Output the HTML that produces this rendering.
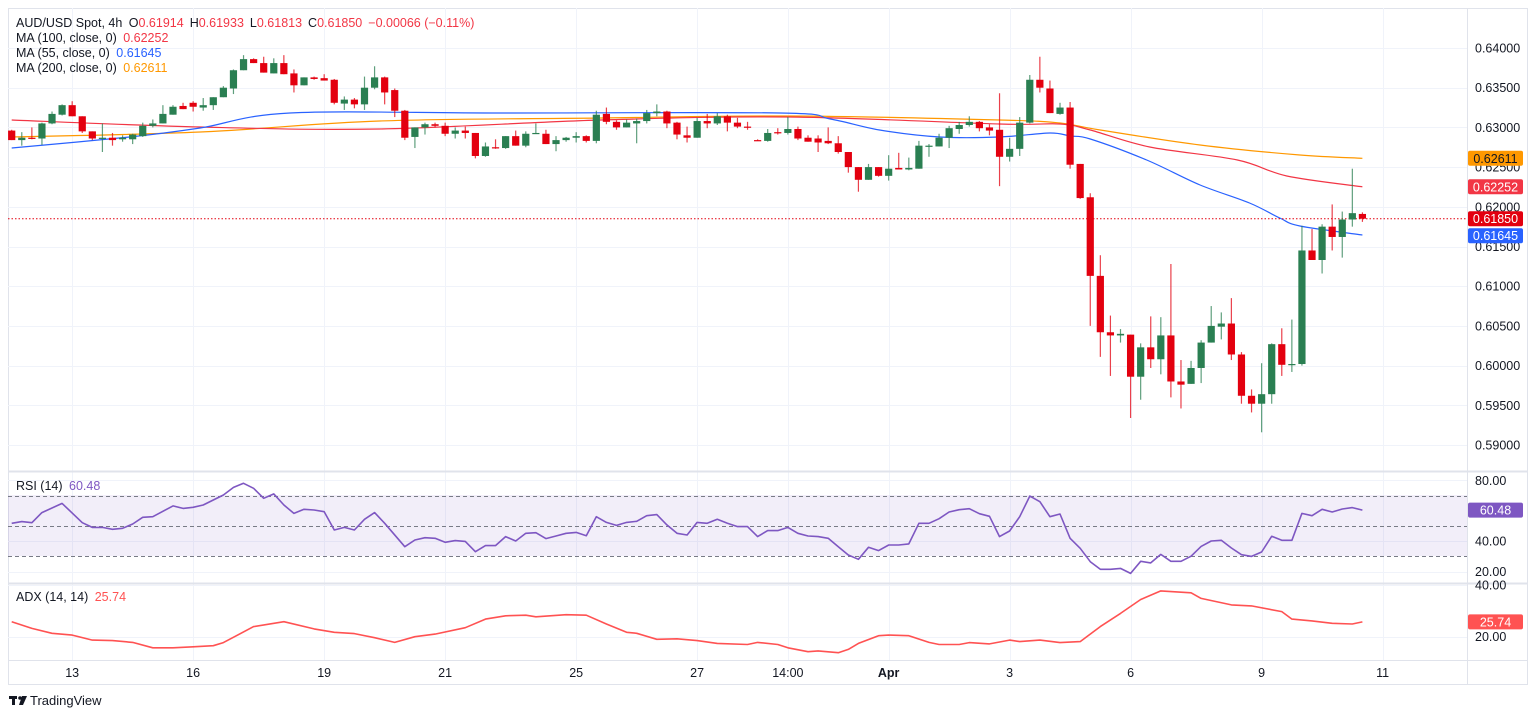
<!DOCTYPE html>
<html><head><meta charset="utf-8"><title>AUD/USD 4h</title>
<style>
html,body{margin:0;padding:0;background:#fff;}
body{width:1536px;height:716px;overflow:hidden;font-family:"Liberation Sans",sans-serif;}
svg text{font-family:"Liberation Sans",sans-serif;}
</style></head>
<body>
<svg id="chart" width="1536" height="716" viewBox="0 0 1536 716" xmlns="http://www.w3.org/2000/svg">
<rect x="0" y="0" width="1536" height="716" fill="#ffffff"/>
<rect x="8.5" y="8.5" width="1519" height="676" fill="none" stroke="#e0e3eb"/>
<g id="grid"></g>
<rect x="8" y="495" width="1459" height="61" fill="rgba(126,87,194,0.1)"/>
<g id="rsiLevels"></g>
<g id="mas"></g>
<g id="candles"></g>
<g id="indicators"></g>
<line x1="1467.5" y1="8" x2="1467.5" y2="684" stroke="#e0e3eb"/>
<line x1="8" y1="471.5" x2="1527" y2="471.5" stroke="#e0e3eb" stroke-width="2"/>
<line x1="8" y1="583.5" x2="1527" y2="583.5" stroke="#e0e3eb" stroke-width="2"/>
<line x1="8" y1="660.5" x2="1527" y2="660.5" stroke="#e0e3eb"/>
<g id="axes"></g>
<g id="badges"></g>
<g font-size="12.5">
<text x="16" y="27" fill="#131722">AUD/USD Spot, 4h <tspan dx="3">O</tspan><tspan fill="#F23645">0.61914</tspan><tspan dx="6">H</tspan><tspan fill="#F23645">0.61933</tspan><tspan dx="6">L</tspan><tspan fill="#F23645">0.61813</tspan><tspan dx="6">C</tspan><tspan fill="#F23645">0.61850</tspan><tspan dx="6" fill="#F23645">−0.00066 (−0.11%)</tspan></text>
<text x="16" y="42" fill="#131722">MA (100, close, 0) <tspan dx="3" fill="#F23645">0.62252</tspan></text>
<text x="16" y="57" fill="#131722">MA (55, close, 0) <tspan dx="3" fill="#2962FF">0.61645</tspan></text>
<text x="16" y="72" fill="#131722">MA (200, close, 0) <tspan dx="3" fill="#FF9800">0.62611</tspan></text>
<text x="16" y="490" fill="#131722">RSI (14) <tspan dx="3" fill="#7E57C2">60.48</tspan></text>
<text x="16" y="601" fill="#131722">ADX (14, 14) <tspan dx="3" fill="#FF5252">25.74</tspan></text>
</g>
<g>
<rect x="9" y="696" width="8" height="3" fill="#131722"/>
<rect x="12" y="696" width="3" height="9" fill="#131722"/>
<circle cx="20" cy="698" r="1.8" fill="#131722"/>
<polygon points="22,696 27,696 23,705 19,705" fill="#131722"/>
<text x="30" y="705" font-size="13" fill="#131722">TradingView</text>
</g>
</svg>
<script>
// ---- candle data (4h) ----
const opens=[.6296,.6284,.6287,.6286,.6305,.6316,.6328,.6314,.6295,.6287,.6287,.6285,.6285,.6289,.6302,.6305,.6316,.6327,.6331,.6325,.6328,.6338,.6349,.6372,.6386,.6381,.6368,.6381,.6368,.6353,.6363,.6362,.6360,.6330,.6335,.6329,.6350,.6363,.6347,.6321,.6288,.6300,.6304,.6302,.6292,.6296,.6293,.6264,.6275,.6274,.6289,.6277,.6292,.6292,.6279,.6284,.6287,.6289,.6283,.6317,.6307,.6300,.6305,.6308,.6318,.6320,.6306,.6290,.6287,.6308,.6305,.6314,.6306,.6301,.6284,.6283,.6294,.6293,.6298,.6287,.6286,.6283,.6280,.6269,.6250,.6234,.6250,.6239,.6249,.6247,.6248,.6276,.6276,.6287,.6298,.6303,.6307,.6300,.6297,.6263,.6273,.6306,.6360,.6349,.6317,.6325,.6254,.6212,.6113,.6042,.6038,.6039,.5986,.6023,.6008,.6038,.5980,.5977,.5997,.6029,.6049,.6053,.6014,.5962,.5952,.5964,.6027,.6001,.6002,.6145,.6133,.6175,.6162,.6184,.6191];
const highs=[.6297,.6294,.6300,.6306,.6320,.6329,.6333,.6314,.6295,.6305,.6293,.6290,.6292,.6306,.6310,.6328,.6328,.6331,.6333,.6337,.6338,.6352,.6373,.6391,.6387,.6389,.6387,.6391,.6373,.6363,.6364,.6367,.6361,.6339,.6337,.6364,.6377,.6364,.6349,.6322,.6300,.6306,.6306,.6306,.6300,.6301,.6293,.6281,.6285,.6289,.6296,.6295,.6305,.6297,.6289,.6288,.6294,.6290,.6321,.6325,.6309,.6310,.6311,.6322,.6329,.6321,.6307,.6301,.6312,.6317,.6318,.6316,.6312,.6307,.6285,.6298,.6299,.6313,.6301,.6290,.6290,.6300,.6289,.6269,.6250,.6254,.6250,.6265,.6268,.6262,.6283,.6279,.6292,.6302,.6307,.6314,.6308,.6304,.6343,.6287,.6313,.6366,.6389,.6359,.6331,.6332,.6254,.6217,.6139,.6063,.6046,.6039,.6028,.6062,.6061,.6128,.6007,.6006,.6032,.6075,.6067,.6085,.6017,.5970,.6003,.6028,.6047,.6058,.6176,.6172,.6178,.6203,.6194,.6248,.6193];
const lows=[.6284,.6277,.6285,.6278,.6304,.6315,.6314,.6293,.6284,.6269,.6277,.6282,.6279,.6288,.6300,.6305,.6316,.6323,.6320,.6321,.6322,.6338,.6342,.6372,.6381,.6369,.6368,.6367,.6344,.6353,.6360,.6359,.6329,.6322,.6324,.6322,.6348,.6329,.6313,.6284,.6274,.6291,.6300,.6289,.6286,.6286,.6261,.6263,.6273,.6273,.6277,.6275,.6292,.6279,.6270,.6282,.6281,.6281,.6280,.6304,.6297,.6300,.6280,.6305,.6314,.6299,.6285,.6281,.6287,.6299,.6303,.6295,.6299,.6297,.6283,.6282,.6291,.6291,.6284,.6282,.6269,.6279,.6267,.6243,.6219,.6234,.6238,.6233,.6247,.6246,.6248,.6263,.6276,.6274,.6292,.6301,.6295,.6290,.6226,.6257,.6264,.6305,.6344,.6318,.6316,.6248,.6210,.6050,.6011,.5987,.6029,.5934,.5957,.5997,.5989,.5960,.5946,.5977,.5978,.6029,.6033,.6007,.5952,.5941,.5916,.5952,.5987,.5992,.6000,.6133,.6116,.6145,.6136,.6175,.6181];
const closes=[.6284,.6287,.6286,.6305,.6317,.6328,.6314,.6295,.6286,.6287,.6284,.6287,.6291,.6302,.6305,.6317,.6326,.6323,.6326,.6328,.6338,.6350,.6372,.6386,.6381,.6369,.6381,.6367,.6353,.6363,.6361,.6359,.6331,.6335,.6329,.6350,.6363,.6344,.6321,.6287,.6300,.6304,.6302,.6292,.6296,.6293,.6264,.6276,.6274,.6289,.6277,.6292,.6293,.6279,.6284,.6287,.6289,.6283,.6316,.6307,.6300,.6306,.6308,.6318,.6320,.6305,.6291,.6287,.6308,.6305,.6314,.6306,.6301,.6300,.6283,.6293,.6293,.6298,.6286,.6282,.6281,.6280,.6269,.6250,.6234,.6250,.6239,.6248,.6247,.6249,.6277,.6277,.6287,.6299,.6303,.6307,.6299,.6296,.6263,.6273,.6306,.6360,.6350,.6318,.6325,.6253,.6211,.6113,.6042,.6038,.6040,.5986,.6023,.6008,.6038,.5980,.5976,.5997,.6029,.6050,.6053,.6014,.5962,.5952,.5964,.6027,.6001,.6002,.6145,.6133,.6175,.6162,.6184,.6192,.6185];
// ---- moving averages (candle index, value) ----
const ma55Idx=[0,11.7,18.7,27.6,48.4,76.2,81.2,86.1,92.1,98,103,105,107,112.6,117.9,122.8,125.8,127.8,134];
const ma55Val=[.62741,.62879,.62992,.63181,.63181,.63181,.63106,.62967,.62879,.62879,.62929,.62892,.62854,.62589,.62275,.62048,.61859,.61758,.61645];
const ma100Idx=[0,18.7,36.5,58.4,77.2,98,104,107,112.9,121.6,126.5,134];
const ma100Val=[.63093,.63005,.6298,.63093,.63131,.63043,.63043,.62967,.62753,.6259,.62388,.62252];
const ma200Idx=[0,18.7,36.5,58.4,77.2,98,104,108,117.9,127.8,134];
const ma200Val=[.62879,.62942,.63081,.63118,.63144,.63093,.63055,.62967,.62778,.62652,.62611];
// ---- RSI (14) ----
const rsiIdx=[0,1,2,3,5,7,8,9,10,11,12,13,14,16,17,18,19,21,22,23,24,25,26,27,28,29,30,31,32,33,34,35,36,37,39,40,41,42,43,44,45,46,47,48,49,50,51,52,53,54,55,56,57,58,59,60,61,62,63,64,65,66,67,68,69,70,71,72,73,74,75,76,77,78,79,80,81,82,83,84,85,86,87,88,89,90,91,92,93,94,95,96,97,98,99,100,101,102,103,104,105,106,107,108,109,110,111,112,113,114,115,116,117,118,119,120,121,122,123,124,125,126,127,128,129,130,131,132,133,134];
const rsiVal=[51.8,52.9,52.2,58.8,64.9,52.2,49.1,49.1,47.8,48.5,51.3,55.7,56.1,63.2,61.6,62.3,63.8,70.4,75.4,78.1,74.8,68.2,71.1,63.8,58.3,61.0,60.5,59.4,47.4,49.1,47.4,54.4,58.8,51.8,36.4,40.8,42.3,41.9,39.3,40.4,39.9,33.1,37.1,37.1,43.0,40.1,45.2,45.6,41.7,43.4,45.2,45.8,43.6,56.1,52.4,50.4,52.4,53.1,56.8,57.5,50.7,45.2,44.1,52.4,51.8,54.4,51.8,49.6,49.6,43.0,47.0,47.0,49.1,45.2,43.4,43.0,41.9,36.4,30.9,28.1,36.0,33.8,37.5,37.5,38.2,51.8,51.8,54.8,59.2,60.7,61.4,58.1,56.4,43.0,46.7,56.1,69.7,66.0,56.1,57.9,41.9,35.3,26.5,21.5,21.5,22.1,18.8,26.8,25.7,31.3,26.8,26.8,30.1,36.6,40.1,40.6,35.5,31.1,30.0,32.9,43.2,40.6,40.6,58.3,56.8,61.0,59.2,61.2,62.1,60.48];
const rsiTicks=[80,40,20];
const rsiLevels=[70,50,30];
// ---- ADX (14,14) ----
const adxIdx=[0,2,4,6,8,10,12,14,16,18,20,21,24,27,30,32,34,36,38,40,42,45,47,49,51,52,55,57,59,61,62,64,66,68,70,73,74,76,77,79,80,82,83,84,86,87,89,91,92,94,95,97,99,100,102,104,106,108,110,112,114,117,118,121,123,126,127,129,131,133,134];
const adxVal=[25.8,23.2,21.3,20.6,18.7,18.5,17.8,15.7,15.7,16.1,16.5,17.7,23.9,25.8,23.0,21.7,21.2,19.6,17.8,20.0,21.0,23.5,26.8,28.1,28.3,27.7,28.5,28.3,24.9,21.7,21.3,19.0,19.2,18.5,17.4,17.0,17.8,17.0,15.7,14.2,14.5,13.8,15.1,17.4,20.4,20.6,20.4,17.8,17.0,17.0,17.7,17.2,18.7,18.1,18.7,17.7,18.1,23.9,29.0,34.4,37.7,37.0,34.8,32.3,31.9,29.7,26.8,26.1,25.2,24.9,25.74];
const adxTicks=[40,20];
// ---- axes ----
const priceTicks=[0.640,0.635,0.630,0.625,0.620,0.615,0.610,0.605,0.600,0.595,0.590];
const timeTickIdx=[6,18,31,43,56,68,77,87,99,111,124,136];
const timeTickLabels=["13","16","19","21","25","27","14:00","Apr","3","6","9","11"];
const lastClose=0.6185;

const NS="http://www.w3.org/2000/svg";
function xOf(i){return 11.7+i*10.08;}
function yP(p){return 48+(0.64-p)*7940;}
function yR(v){return 526-(v-50)*1.52;}
function yA(v){return 636.7-(v-20)*2.585;}
function mk(tag,attrs,parent){const e=document.createElementNS(NS,tag);for(const k in attrs)e.setAttribute(k,attrs[k]);parent.appendChild(e);return e;}
const grid=document.getElementById('grid'),axes=document.getElementById('axes');

priceTicks.forEach(p=>{
  const y=Math.round(yP(p))+0.5;
  const l=mk('line',{x1:8,x2:1467,y1:y,y2:y,stroke:'#f0f3fa'},grid);
  
  
  const t=mk('text',{x:1475,y:yP(p)+4.5,'font-size':12.5,fill:'#131722'},axes);
  t.textContent=p.toFixed(5);
  
  
});
timeTickIdx.forEach((i,k)=>{
  const x=Math.round(xOf(i))+0.5;
  const l=mk('line',{x1:x,x2:x,y1:8,y2:660,stroke:'#f0f3fa'},grid);
  
  
  const t=mk('text',{x:xOf(i),y:677,'font-size':12.5,fill:'#131722','text-anchor':'middle','font-weight':timeTickLabels[k]==='Apr'?'bold':'normal'},axes);
  t.textContent=timeTickLabels[k];
  
  
});
rsiTicks.forEach(v=>{
  const y=Math.round(yR(v))+0.5;
  const l=mk('line',{x1:8,x2:1467,y1:y,y2:y,stroke:'#f0f3fa'},grid);
  
  
  const t=mk('text',{x:1475,y:yR(v)+4.5,'font-size':12.5,fill:'#131722'},axes);
  t.textContent=v.toFixed(2);
  
  
});
adxTicks.forEach(v=>{
  const y=Math.round(yA(v))+0.5;
  const l=mk('line',{x1:8,x2:1467,y1:y,y2:y,stroke:'#f0f3fa'},grid);
  
  
  const t=mk('text',{x:1475,y:yA(v)+4.5,'font-size':12.5,fill:'#131722'},axes);
  t.textContent=v.toFixed(2);
  
  
});
const lv=document.getElementById('rsiLevels');
rsiLevels.forEach(v=>{
  const y=Math.round(yR(v))+0.5;
  const l=mk('line',{x1:8,x2:1467,y1:y,y2:y,stroke:'#787b86','stroke-dasharray':'4,3'},lv);
  
  
});

const mas=document.getElementById('mas');
function poly(idx,val,yf,color,name,parent,w){
  const pts=idx.map((i,k)=>xOf(i).toFixed(1)+','+yf(val[k]).toFixed(1)).join(' ');
  const pl=mk('polyline',{points:pts,fill:'none',stroke:color,'stroke-width':w||1.2,'stroke-linejoin':'round'},parent);
  
  
}
function smooth(idx,val,yf,color,name,parent){
  const P=idx.map((i,k)=>[xOf(i),yf(val[k])]);
  let d='M'+P[0][0].toFixed(1)+','+P[0][1].toFixed(1);
  for(let k=0;k<P.length-1;k++){
    const p0=P[Math.max(0,k-1)],p1=P[k],p2=P[k+1],p3=P[Math.min(P.length-1,k+2)];
    const c1=[p1[0]+(p2[0]-p0[0])/6,p1[1]+(p2[1]-p0[1])/6];
    const c2=[p2[0]-(p3[0]-p1[0])/6,p2[1]-(p3[1]-p1[1])/6];
    d+=' C'+c1[0].toFixed(1)+','+c1[1].toFixed(1)+' '+c2[0].toFixed(1)+','+c2[1].toFixed(1)+' '+p2[0].toFixed(1)+','+p2[1].toFixed(1);
  }
  const pa=mk('path',{d:d,fill:'none',stroke:color,'stroke-width':1.2},parent);
  
  
}
smooth(ma200Idx,ma200Val,yP,'#FF9800','ma200-line',mas);
smooth(ma100Idx,ma100Val,yP,'#F23645','ma100-line',mas);
smooth(ma55Idx,ma55Val,yP,'#2962FF','ma55-line',mas);

const cg=document.getElementById('candles');
const cl=mk('line',{x1:8,x2:1467,y1:yP(lastClose),y2:yP(lastClose),stroke:'#E3000F','stroke-dasharray':'1.5,2'},cg);


for(let i=0;i<opens.length;i++){
  const up=closes[i]>=opens[i];
  const col=up?'#2a7f52':'#E3000F';
  const x=xOf(i);
  const g=mk('g',{},cg);
  
  
  mk('line',{x1:x,x2:x,y1:yP(highs[i]),y2:yP(lows[i]),stroke:col,'stroke-width':1.2,'stroke-opacity':0.75},g);
  const top=yP(Math.max(opens[i],closes[i])),bot=yP(Math.min(opens[i],closes[i]));
  mk('rect',{x:x-3.6,y:top,width:7.2,height:Math.max(1.2,bot-top),fill:col},g);
}

const ind=document.getElementById('indicators');
poly(rsiIdx,rsiVal,yR,'#7E57C2','rsi-line',ind,1.6);
poly(adxIdx,adxVal,yA,'#FF5252','adx-line',ind,1.6);

const bg=document.getElementById('badges');
function badge(y,txt,bgc,fg,name){
  const g=mk('g',{},bg);
  
  
  mk('rect',{x:1468,y:y-7.5,width:55,height:15,rx:2,fill:bgc},g);
  const t=mk('text',{x:1495.5,y:y+4.5,'font-size':12.5,fill:fg,'text-anchor':'middle'},g);
  t.textContent=txt;
}
badge(yP(ma200Val[ma200Val.length-1]),'0.62611','#FF9800','#131722','ma200-price-badge');
badge(yP(ma100Val[ma100Val.length-1]),'0.62252','#F23645','#ffffff','ma100-price-badge');
badge(yP(lastClose),'0.61850','#E3000F','#ffffff','last-price-badge');
badge(yP(lastClose)+17,'0.61645','#2962FF','#ffffff','ma55-price-badge');
badge(yR(rsiVal[rsiVal.length-1]),'60.48','#7E57C2','#ffffff','rsi-value-badge');
badge(yA(adxVal[adxVal.length-1]),'25.74','#FF5252','#ffffff','adx-value-badge');
</script>
</body></html>
